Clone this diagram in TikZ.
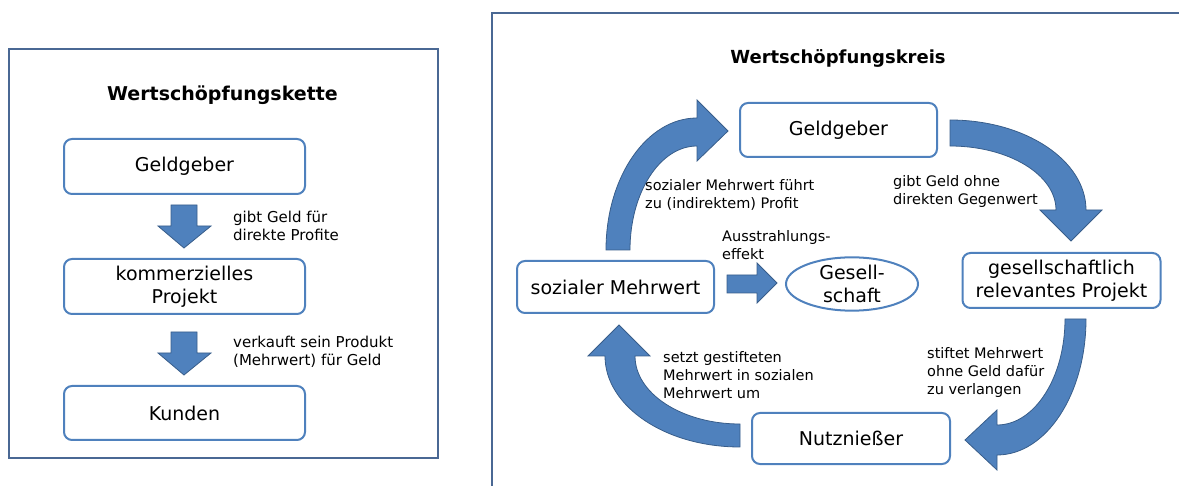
\documentclass[tikz,border=0pt]{standalone}
\usepackage{fontspec}
\setmainfont{DejaVu Sans}
\usetikzlibrary{shapes.geometric}

\definecolor{boxblue}{RGB}{79,129,189}
\definecolor{arrowline}{RGB}{56,93,138}
\definecolor{panelline}{RGB}{74,104,148}

\tikzset{
  stage/.style={draw=boxblue, line width=2pt, rounded corners=8pt, fill=white,
    align=center, inner sep=0pt, font=\fontsize{19}{23}\selectfont},
  note/.style={anchor=west, align=left, inner sep=0pt, font=\fontsize{15}{18}\selectfont},
  rnote/.style={anchor=west, align=left, inner sep=0pt, font=\fontsize{14.5}{18}\selectfont},
  heading/.style={font=\fontsize{19}{23}\selectfont\bfseries},
  blockarrow/.style={fill=boxblue, draw=arrowline, line width=0.8pt, line join=miter}
}

\begin{document}
\begin{tikzpicture}[x=1pt, y=-1pt]
        \useasboundingbox (0,0) rectangle (1179,486);

        % Panels
        \draw[panelline, line width=2pt] (9,49) rectangle (438,458);
        \draw[panelline, line width=2pt] (492,490) -- (492,13) -- (1185,13);

        % Headings
        \node[heading] (kette) at (222.5,95) {Wertschöpfungskette};
        \node[heading, font=\fontsize{18}{22}\selectfont\bfseries] (kreis) at (838,58) {Wertschöpfungskreis};

        % Chain: boxes
        \node[stage, minimum width=241pt, minimum height=55pt] (geld) at (184.5,166.5) {Geldgeber};
        \node[stage, minimum width=241pt, minimum height=55pt] (komm) at (184.5,286.5) {kommerzielles\\Projekt};
        \node[stage, minimum width=241pt, minimum height=54pt] (kunden) at (184.5,413) {Kunden};

        % Chain: arrows
        \filldraw[blockarrow] (171,205) -- (197,205) -- (197,226) -- (211,226) -- (184,248) -- (158,226) -- (171,226) -- cycle;
        \filldraw[blockarrow] (171,332) -- (197,332) -- (197,353) -- (211,353) -- (184,375) -- (158,353) -- (171,353) -- cycle;

        % Chain: labels
        \node[note] (n1) at (233,225.5) {gibt Geld für\\direkte Profite};
        \node[note] (n2) at (233,352) {verkauft sein Produkt\\(Mehrwert) für Geld};

        % Circle: boxes
        \node[stage, minimum width=197pt, minimum height=54pt] (geber) at (838.5,130) {Geldgeber};
        \node[stage, minimum width=198pt, minimum height=55pt] (projekt) at (1061.5,280.5) {gesellschaftlich\\relevantes Projekt};
        \node[stage, minimum width=198pt, minimum height=51pt] (nutz) at (851,438.5) {Nutznießer};
        \node[stage, minimum width=197pt, minimum height=52pt] (sozial) at (615.5,287) {sozialer Mehrwert};
        \node[draw=boxblue, line width=2pt, ellipse, minimum width=132pt, minimum height=50pt,
          inner sep=0pt, align=center, font=\fontsize{19}{23}\selectfont] (ges) at (852,284) {Gesell-\\schaft};

        % Circle: curved arrows
        \filldraw[blockarrow] (606,250) arc[start angle=180, end angle=270, x radius=91, y radius=132]
          -- (697,100) -- (728,131) -- (697,161) -- (697,146)
          arc[start angle=270, end angle=180, x radius=67, y radius=104] -- cycle;
        \filldraw[blockarrow] (950,120) arc[start angle=270, end angle=360, x radius=136, y radius=90]
          -- (1102,210) -- (1071,241) -- (1040,210) -- (1056,210)
          arc[start angle=0, end angle=-90, x radius=106, y radius=64] -- cycle;
        \filldraw[blockarrow] (1086,319) arc[start angle=0, end angle=90, x radius=89, y radius=136]
          -- (997,470) -- (965,440) -- (997,410) -- (997,425)
          arc[start angle=90, end angle=0, x radius=68, y radius=106] -- cycle;
        \filldraw[blockarrow] (740,447) arc[start angle=90, end angle=180, x radius=135, y radius=91]
          -- (588,356) -- (619,325) -- (650,356) -- (635,356)
          arc[start angle=180, end angle=90, x radius=105, y radius=68] -- cycle;

        % Spillover arrow
        \filldraw[blockarrow] (727,275) -- (757,275) -- (757,263) -- (777,283) -- (757,303) -- (757,293) -- (727,293) -- cycle;

        % Circle: labels
        \node[rnote] (r1) at (645,195) {sozialer Mehrwert führt\\zu (indirektem) Profit};
        \node[rnote] (r2) at (893,191.5) {gibt Geld ohne\\direkten Gegenwert};
        \node[rnote] (r3) at (722,245.5) {Ausstrahlungs-\\effekt};
        \node[rnote] (r4) at (663,375) {setzt gestifteten\\Mehrwert in sozialen\\Mehrwert um};
        \node[rnote] (r5) at (927,372.5) {stiftet Mehrwert\\ohne Geld dafür\\zu verlangen};
\end{tikzpicture}
\end{document}
